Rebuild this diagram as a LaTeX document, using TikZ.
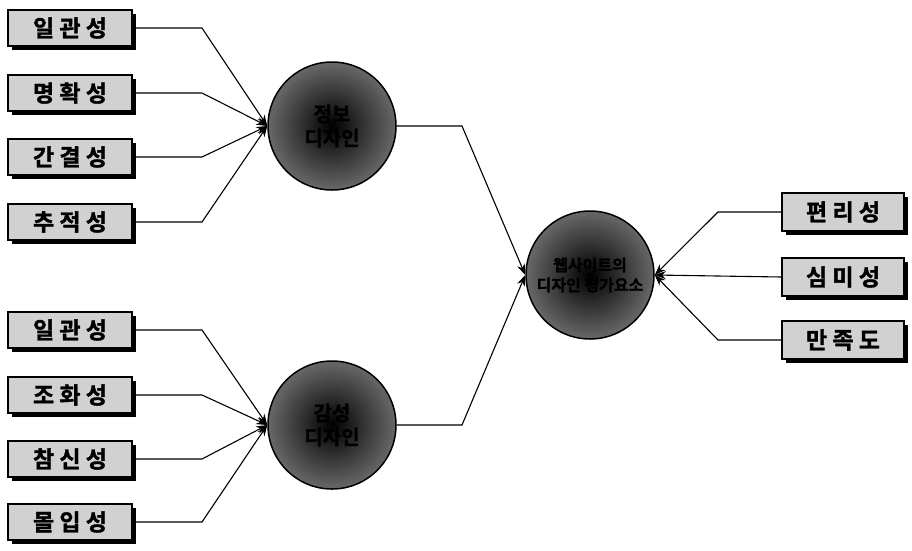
\documentclass[tikz,border=0pt]{standalone}
\usepackage{fontspec}
\newfontfamily\kr{Noto Sans CJK KR}[BoldFont={* Bold}, BoldFeatures={FakeBold=1.5}]
\usetikzlibrary{arrows.meta,shadows}
\tikzset{
  attr/.style={draw=black, line width=1.2pt, fill=black!18, minimum width=124pt, minimum height=36pt,
    inner sep=0pt, font=\kr\bfseries\fontsize{23}{23}\selectfont,
    drop shadow={shadow xshift=4pt, shadow yshift=-4pt, fill=black, opacity=1}},
  ball/.style={circle, draw=black, line width=1.5pt, minimum size=128pt, inner sep=0pt,
    fill=black!60, align=center,
    path picture={\shade[inner color=black, outer color=black!58]
      (path picture bounding box.center) circle (66pt);},
    font=\kr\bfseries\fontsize{20}{24}\selectfont},
  conn/.style={line width=1.1pt, -{Stealth[length=11pt,width=8pt]}}
}
\begin{document}
\begin{tikzpicture}[x=1pt,y=-1pt]
\useasboundingbox (0,0) rectangle (912,550);
% left top group
\node[attr] (a1) at (70,28) {일 관 성};
\node[attr] (a2) at (70,93) {명 확 성};
\node[attr] (a3) at (70,157) {간 결 성};
\node[attr] (a4) at (70,222) {추 적 성};
% left bottom group
\node[attr] (b1) at (70,330) {일 관 성};
\node[attr] (b2) at (70,395) {조 화 성};
\node[attr] (b3) at (70,459) {참 신 성};
\node[attr] (b4) at (70,522) {몰 입 성};
% right group
\node[attr, minimum width=122pt, minimum height=38pt] (r1) at (843,212) {편 리 성};
\node[attr, minimum width=122pt, minimum height=38pt] (r2) at (843,277) {심 미 성};
\node[attr, minimum width=122pt, minimum height=38pt] (r3) at (843,340) {만 족 도};
% circles
\node[ball] (ct) at (332,126) {\textcolor{black}{정보}\\\textcolor{black}{디자인}};
\node[ball] (cb) at (332,425) {\textcolor{black}{감성}\\\textcolor{black}{디자인}};
\node[ball, font=\kr\bfseries\fontsize{16}{20}\selectfont] (cc) at (590,275)
  {\textcolor{black}{웹사이트의}\\\textcolor{black}{디자인 평가요소}};
% connectors top
\coordinate (ea1) at (202,28);
\coordinate (ea2) at (202,93);
\coordinate (ea3) at (202,157);
\coordinate (ea4) at (202,222);
\draw[conn] (a1.east) -- (ea1) -- (ct.west);
\draw[conn] (a2.east) -- (ea2) -- (ct.west);
\draw[conn] (a3.east) -- (ea3) -- (ct.west);
\draw[conn] (a4.east) -- (ea4) -- (ct.west);
% connectors bottom
\coordinate (eb1) at (202,330);
\coordinate (eb2) at (202,395);
\coordinate (eb3) at (202,459);
\coordinate (eb4) at (202,522);
\draw[conn] (b1.east) -- (eb1) -- (cb.west);
\draw[conn] (b2.east) -- (eb2) -- (cb.west);
\draw[conn] (b3.east) -- (eb3) -- (cb.west);
\draw[conn] (b4.east) -- (eb4) -- (cb.west);
% circles to center
\coordinate (et) at (462,126);
\coordinate (eb) at (462,425);
\draw[conn] (ct.east) -- (et) -- (cc.west);
\draw[conn] (cb.east) -- (eb) -- (cc.west);
% right connectors
\coordinate (er1) at (718,212);
\coordinate (er3) at (718,340);
\draw[conn] (r1.west) -- (er1) -- (cc.east);
\draw[conn] (r2.west) -- (cc.east);
\draw[conn] (r3.west) -- (er3) -- (cc.east);
\end{tikzpicture}
\end{document}
